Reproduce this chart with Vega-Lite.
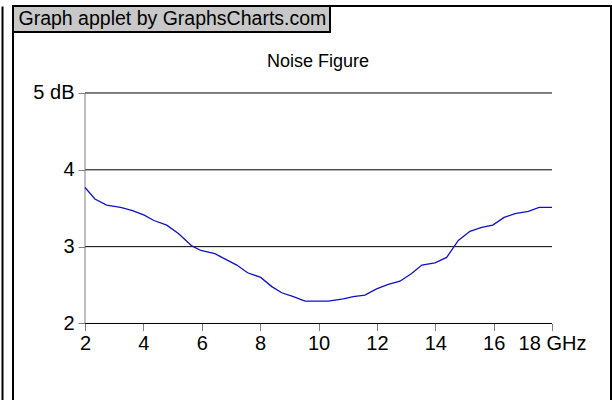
{
  "$schema": "https://vega.github.io/schema/vega-lite/v6.json",
  "width": 598,
  "height": 400,
  "autosize": {"type": "none"},
  "padding": {"left": 13, "top": 6, "right": 1, "bottom": 0},
  "background": "white",
  "title": {
    "text": "Noise Figure",
    "anchor": "middle",
    "frame": "group",
    "baseline": "bottom",
    "offset": -84,
    "dx": 6,
    "fontSize": 18,
    "font": "Liberation Sans",
    "fontWeight": "normal",
    "color": "black"
  },
  "config": {
    "view": {"stroke": "black", "strokeWidth": 2},
    "legend": {"strokeColor": "black", "strokeWidth": 2, "fillColor": "#c8c8c8"}
  },
  "datasets": {
    "noise": [
      {"GHz": 2.0, "dB": 3.77},
      {"GHz": 2.34, "dB": 3.62},
      {"GHz": 2.74, "dB": 3.54},
      {"GHz": 3.22, "dB": 3.51},
      {"GHz": 3.63, "dB": 3.47},
      {"GHz": 4.03, "dB": 3.41},
      {"GHz": 4.36, "dB": 3.34},
      {"GHz": 4.8, "dB": 3.28},
      {"GHz": 5.2, "dB": 3.17},
      {"GHz": 5.66, "dB": 3.01},
      {"GHz": 5.97, "dB": 2.95},
      {"GHz": 6.45, "dB": 2.91},
      {"GHz": 6.74, "dB": 2.85},
      {"GHz": 7.2, "dB": 2.76},
      {"GHz": 7.57, "dB": 2.66},
      {"GHz": 8.02, "dB": 2.6},
      {"GHz": 8.4, "dB": 2.48},
      {"GHz": 8.74, "dB": 2.4},
      {"GHz": 9.14, "dB": 2.35},
      {"GHz": 9.54, "dB": 2.29},
      {"GHz": 10.34, "dB": 2.29},
      {"GHz": 10.85, "dB": 2.32},
      {"GHz": 11.19, "dB": 2.35},
      {"GHz": 11.59, "dB": 2.37},
      {"GHz": 11.99, "dB": 2.45},
      {"GHz": 12.39, "dB": 2.51},
      {"GHz": 12.79, "dB": 2.55},
      {"GHz": 13.19, "dB": 2.65},
      {"GHz": 13.54, "dB": 2.76},
      {"GHz": 13.99, "dB": 2.79},
      {"GHz": 14.39, "dB": 2.86},
      {"GHz": 14.79, "dB": 3.08},
      {"GHz": 15.19, "dB": 3.2},
      {"GHz": 15.59, "dB": 3.25},
      {"GHz": 15.97, "dB": 3.28},
      {"GHz": 16.36, "dB": 3.38},
      {"GHz": 16.73, "dB": 3.43},
      {"GHz": 17.19, "dB": 3.46},
      {"GHz": 17.56, "dB": 3.51},
      {"GHz": 18.0, "dB": 3.51}
    ],
    "grid": [{"dB": 2}, {"dB": 3}, {"dB": 4}, {"dB": 5}],
    "yaxis": [{"from": 2, "to": 5}]
  },
  "resolve": {"axis": {"x": "independent", "y": "independent"}},
  "layer": [
    {
      "data": {"name": "grid"},
      "mark": {"type": "rule", "color": "black", "strokeWidth": 1},
      "encoding": {
        "x": {
          "datum": 2,
          "type": "quantitative",
          "scale": {"domain": [-0.467, 20.021], "nice": false, "zero": false},
          "axis": null
        },
        "x2": {"datum": 18},
        "y": {
          "field": "dB",
          "type": "quantitative",
          "scale": {"domain": [0.926, 6.132], "nice": false, "zero": false},
          "axis": {
            "orient": "left",
            "offset": -72,
            "values": [2, 3, 4, 5],
            "labelExpr": "datum.value == 5 ? '5 dB' : datum.label",
            "domain": false,
            "grid": false,
            "ticks": true,
            "tickColor": "#808080",
            "tickSize": 7,
            "labelFont": "Liberation Sans",
            "labelFontSize": 20,
            "labelColor": "black",
            "labelPadding": 4,
            "labelFlush": false,
            "labelOverlap": false,
            "title": null
          }
        }
      }
    },
    {
      "data": {"name": "yaxis"},
      "mark": {"type": "rule", "color": "#808080", "strokeWidth": 1},
      "encoding": {
        "x": {"datum": 2, "type": "quantitative", "axis": null},
        "y": {
          "field": "from",
          "type": "quantitative",
          "axis": {
            "orient": "left",
            "offset": 11,
            "domain": true,
            "domainColor": "black",
            "domainWidth": 2,
            "ticks": false,
            "labels": false,
            "grid": false,
            "title": null
          }
        },
        "y2": {"field": "to"}
      }
    },
    {
      "data": {"name": "noise"},
      "mark": {"type": "line", "strokeWidth": 1.3},
      "encoding": {
        "x": {
          "field": "GHz",
          "type": "quantitative",
          "axis": {
            "orient": "bottom",
            "offset": -82.5,
            "values": [2, 4, 6, 8, 10, 12, 14, 16, 18],
            "labelExpr": "datum.value == 18 ? '18 GHz' : datum.label",
            "domain": false,
            "grid": false,
            "ticks": true,
            "tickColor": "#808080",
            "tickSize": 7,
            "labelFont": "Liberation Sans",
            "labelFontSize": 20,
            "labelColor": "black",
            "labelPadding": 3,
            "labelFlush": false,
            "labelOverlap": false,
            "title": null
          }
        },
        "y": {"field": "dB", "type": "quantitative", "axis": null},
        "color": {
          "datum": "Graph applet by GraphsCharts.com",
          "type": "nominal",
          "scale": {"range": ["#1010c8"]},
          "legend": {
            "orient": "top-left",
            "offset": 0,
            "title": null,
            "padding": 3,
            "symbolSize": 0,
            "symbolStrokeWidth": 0,
            "symbolOpacity": 0,
            "labelOffset": -17,
            "labelFont": "Liberation Sans",
            "labelFontSize": 19.5,
            "labelColor": "black",
            "labelLimit": 600,
            "cornerRadius": 0
          }
        }
      }
    }
  ]
}
